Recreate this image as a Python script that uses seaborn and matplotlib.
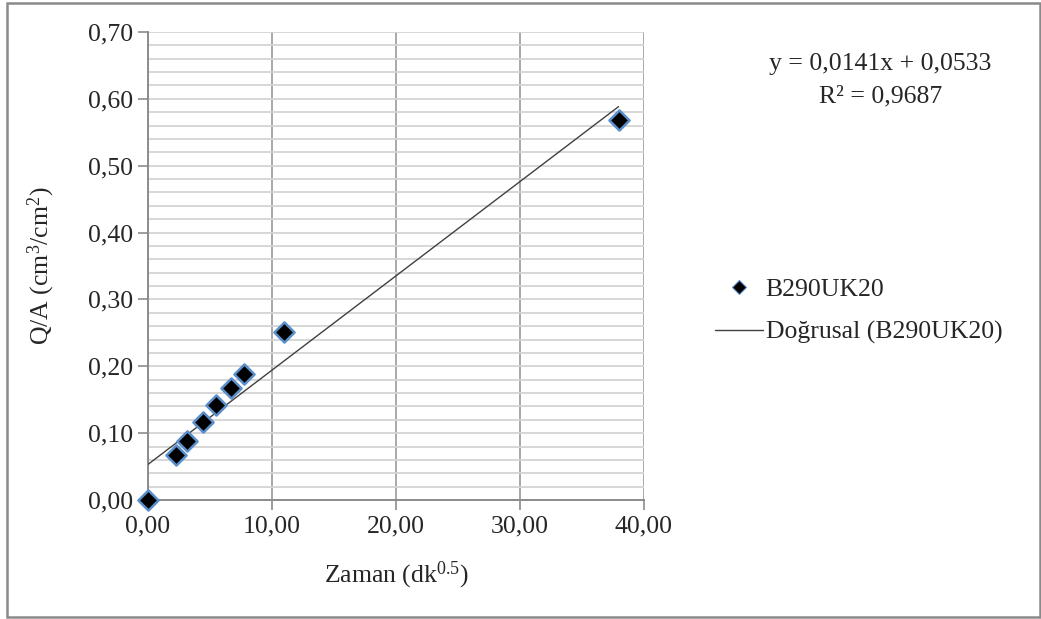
import numpy as np
import pandas as pd
import matplotlib
matplotlib.use("Agg")
import matplotlib.pyplot as plt
import seaborn as sns
from matplotlib.ticker import MultipleLocator, FuncFormatter
from matplotlib.lines import Line2D
from matplotlib.patches import Rectangle

# Measured data: square root of time vs. cumulative flow per area
zaman = [0.00, 2.24, 3.16, 4.47, 5.48, 6.71, 7.75, 10.95, 37.95]
q_a = [0.000, 0.067, 0.088, 0.117, 0.142, 0.168, 0.188, 0.251, 0.569]
seri_adi = "B290UK20"

# Linear trend line coefficients (as reported in the equation label)
egim = 0.0141
kesisim = 0.0533
r_kare = 0.9687

FS = 18.5

sns.set_theme(style="white")
plt.rcParams["font.family"] = ["Liberation Serif", "DejaVu Serif"]
plt.rcParams["mathtext.fontset"] = "custom"
plt.rcParams["mathtext.rm"] = "Liberation Serif"
plt.rcParams["mathtext.default"] = "regular"

fig = plt.figure(figsize=(10.41, 6.19), dpi=100)
ax = fig.add_axes([0.1422, 0.1922, 0.4764, 0.7561])

df = pd.DataFrame({"x": zaman, "y": q_a})
trend_x = [0.0, max(zaman)]
trend = pd.DataFrame({"x": trend_x, "y": [egim * v + kesisim for v in trend_x]})

sns.lineplot(data=trend, x="x", y="y", ax=ax, color="#404040", linewidth=1.0, zorder=3)
sns.scatterplot(data=df, x="x", y="y", ax=ax, marker="D", s=105, color="black",
                edgecolor="#5b8fcb", linewidth=1.8, zorder=4, clip_on=False)

ax.set_xlim(0, 40)
ax.set_ylim(0, 0.70)
ax.xaxis.set_major_locator(MultipleLocator(10))
ax.yaxis.set_major_locator(MultipleLocator(0.10))
ax.yaxis.set_minor_locator(MultipleLocator(0.02))

fmt = FuncFormatter(lambda v, p: f"{v:.2f}".replace(".", ","))
ax.xaxis.set_major_formatter(fmt)
ax.yaxis.set_major_formatter(fmt)

ax.grid(False)
ax.grid(which="both", axis="y", color="#d4d4d4", linewidth=1.3, zorder=0)
ax.grid(which="major", axis="x", color="#9a9a9a", linewidth=1.2, zorder=0)
ax.set_axisbelow(True)

for side in ("top", "right"):
    ax.spines[side].set_visible(False)
for side in ("left", "bottom"):
    ax.spines[side].set_color("#8c8c8c")
    ax.spines[side].set_linewidth(1.4)

ax.tick_params(axis="both", which="major", direction="out", length=7, width=1.2,
               color="#8c8c8c", labelsize=FS, pad=4, left=True, bottom=True)
ax.tick_params(axis="y", which="minor", length=0)

ax.set_xlabel("Zaman (dk$^{0.5}$)", fontsize=FS, labelpad=16)
ax.set_ylabel("Q/A (cm$^{3}$/cm$^{2}$)", fontsize=FS, labelpad=22)

if ax.get_legend() is not None:
    ax.get_legend().remove()

handles = [
    Line2D([], [], marker="D", linestyle="none", color="black", markersize=7,
           markeredgecolor="#5b8fcb", markeredgewidth=0.8),
    Line2D([], [], color="#404040", linewidth=1.0),
]
labels = [seri_adi, f"Doğrusal ({seri_adi})"]
fig.legend(handles, labels, loc="upper left", bbox_to_anchor=(0.677, 0.568),
           frameon=False, fontsize=FS, handlelength=1.85, handletextpad=0.12,
           labelspacing=0.78, borderaxespad=0)

fig.text(0.846, 0.897, f"y = {egim:.4f}x + {kesisim:.4f}".replace(".", ","),
         ha="center", va="center", fontsize=FS)
fig.text(0.846, 0.844, f"R² = {r_kare:.4f}".replace(".", ","),
         ha="center", va="center", fontsize=FS)

fig.add_artist(Rectangle((0.0072, 0.003), 0.992, 0.992, transform=fig.transFigure,
                         fill=False, edgecolor="#8a8a8a", linewidth=1.8))

fig.savefig("out.png", dpi=100)
